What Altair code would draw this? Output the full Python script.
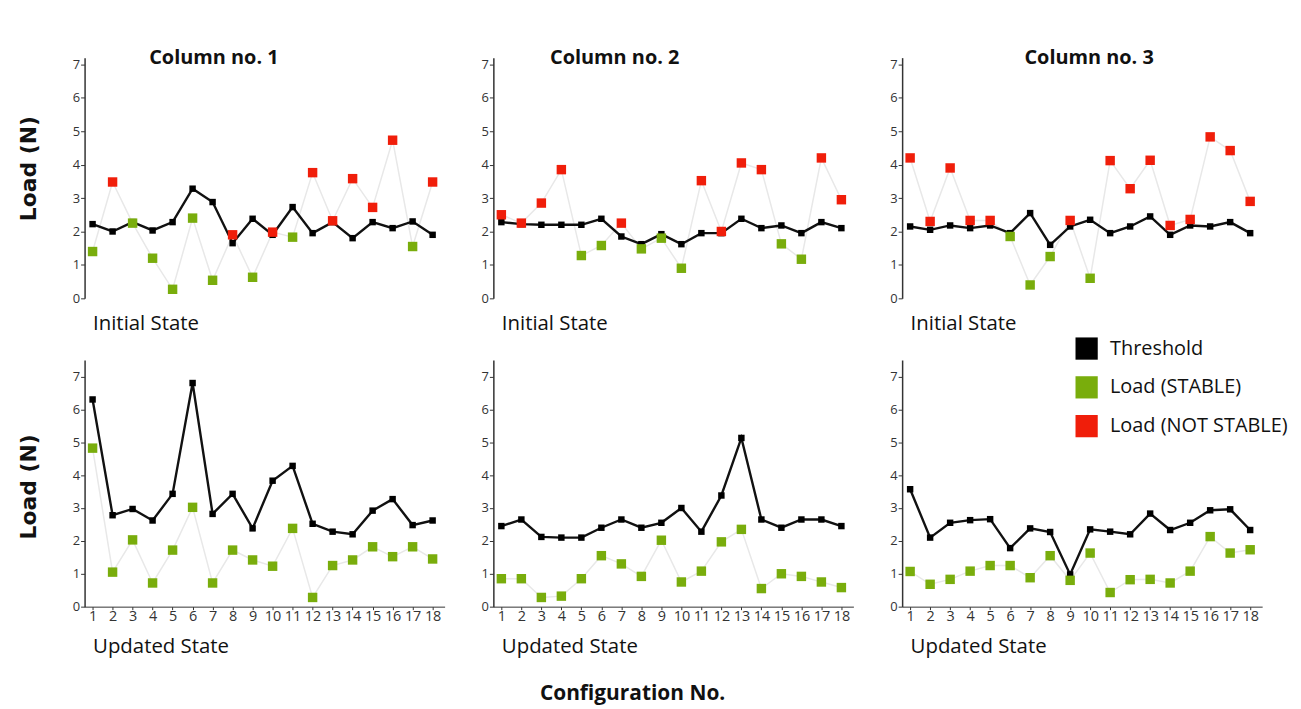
import altair as alt
import pandas as pd

configs = list(range(1, 19))
series_names = ["Threshold", "Load (STABLE)", "Load (NOT STABLE)"]
series_colors = ["#000000", "#79ad0c", "#f01e0a"]

col_titles = ["Column no. 1", "Column no. 2", "Column no. 3"]
state_titles = ["Initial State", "Updated State"]

c1_init_thr = [2.22, 2.00, 2.28, 2.03, 2.28, 3.28, 2.88, 1.65, 2.38, 1.90, 2.73, 1.95, 2.28, 1.80, 2.28, 2.10, 2.30, 1.90]
c1_init_load = [1.40, 3.48, 2.25, 1.20, 0.27, 2.40, 0.54, 1.90, 0.63, 1.98, 1.83, 3.76, 2.32, 3.58, 2.72, 4.73, 1.55, 3.48]

c2_init_thr = [2.28, 2.22, 2.20, 2.20, 2.20, 2.38, 1.85, 1.62, 1.92, 1.62, 1.95, 1.95, 2.38, 2.10, 2.18, 1.95, 2.28, 2.10]
c2_init_load = [2.50, 2.25, 2.85, 3.85, 1.28, 1.58, 2.25, 1.48, 1.80, 0.90, 3.52, 2.00, 4.05, 3.85, 1.63, 1.17, 4.20, 2.95]

c3_init_thr = [2.15, 2.05, 2.18, 2.10, 2.18, 1.95, 2.55, 1.60, 2.15, 2.35, 1.95, 2.15, 2.45, 1.90, 2.18, 2.15, 2.28, 1.95]
c3_init_load = [4.20, 2.30, 3.90, 2.33, 2.33, 1.85, 0.40, 1.25, 2.33, 0.60, 4.12, 3.28, 4.13, 2.18, 2.36, 4.83, 4.42, 2.90]

c1_upd_thr = [6.30, 2.78, 2.97, 2.62, 3.43, 6.80, 2.82, 3.43, 2.38, 3.83, 4.28, 2.52, 2.28, 2.20, 2.92, 3.27, 2.48, 2.62]
c1_upd_load = [4.82, 1.05, 2.03, 0.72, 1.72, 3.02, 0.72, 1.72, 1.42, 1.23, 2.38, 0.28, 1.25, 1.42, 1.82, 1.52, 1.82, 1.45]

c2_upd_thr = [2.45, 2.65, 2.12, 2.10, 2.10, 2.40, 2.65, 2.40, 2.55, 3.00, 2.28, 3.38, 5.13, 2.65, 2.40, 2.65, 2.65, 2.45]
c2_upd_load = [0.85, 0.85, 0.28, 0.32, 0.85, 1.55, 1.30, 0.92, 2.02, 0.75, 1.08, 1.97, 2.35, 0.55, 1.00, 0.92, 0.75, 0.58]

c3_upd_thr = [3.57, 2.10, 2.55, 2.63, 2.66, 1.78, 2.38, 2.27, 0.98, 2.35, 2.28, 2.20, 2.83, 2.33, 2.55, 2.93, 2.96, 2.33]
c3_upd_load = [1.07, 0.68, 0.83, 1.08, 1.25, 1.25, 0.88, 1.55, 0.80, 1.63, 0.43, 0.82, 0.83, 0.72, 1.08, 2.13, 1.63, 1.73]

FONT = "Open Sans"
W = 362
H_TOP, H_BOT = 242, 248


def make_df(thr, load):
    rows = []
    for c, t, l in zip(configs, thr, load):
        rows.append({"cfg": c, "value": t, "series": "Threshold", "kind": "thr"})
        rows.append({"cfg": c, "value": l,
                     "series": "Load (NOT STABLE)" if l > t else "Load (STABLE)",
                     "kind": "load"})
    return pd.DataFrame(rows)


color_enc = alt.Color(
    "series:N",
    scale=alt.Scale(domain=series_names, range=series_colors),
    legend=alt.Legend(
        title=None, orient="none", legendX=996, legendY=281,
        symbolType="square", symbolSize=500, symbolStrokeWidth=0,
        symbolOpacity=1, labelFont=FONT, labelFontSize=20, labelColor="#111",
        labelOffset=12, rowPadding=16, labelLimit=400,
    ),
)


def panel(thr, load, col, row):
    df = make_df(thr, load)
    top = row == 0
    ymax = 7.2 if top else 7.5
    height = H_TOP if top else H_BOT
    if top:
        xaxis = alt.Axis(domain=False, ticks=False, labels=False, grid=False,
                         title=state_titles[0], titleFont=FONT, titleFontSize=20.5,
                         titleFontWeight="normal", titleColor="#111",
                         titleAlign="left", titleBaseline="middle",
                         titleX=8, titleY=25)
    else:
        xaxis = alt.Axis(values=configs, format="d", grid=False,
                         labelFont=FONT, labelFontSize=14.5, labelColor="#333",
                         labelPadding=0, tickSize=3, tickColor="#333",
                         domainColor="#333", labelFlush=False,
                         title=state_titles[1], titleFont=FONT, titleFontSize=20.5,
                         titleFontWeight="normal", titleColor="#111",
                         titleAlign="left", titleBaseline="middle",
                         titleX=8, titleY=40)
    ytitle = "Load (N)" if col == 0 else ""
    yaxis = alt.Axis(values=list(range(8)), grid=False, labelFont=FONT,
                     labelFontSize=13, labelColor="#333", labelPadding=1,
                     tickSize=4, tickColor="#333", domainColor="#333",
                     domainWidth=1.5, labelFlush=False,
                     title=ytitle, titleFont="DejaVu Sans", titleFontSize=22,
                     titleFontWeight="bold", titleColor="#111",
                     titleAngle=270, titleAlign="center", titleBaseline="middle",
                     titleX=-56, titleY=(111 if top else 127))
    base = alt.Chart(df).encode(
        x=alt.X("cfg:Q", scale=alt.Scale(domain=[0.6, 18.6], nice=False, zero=False), axis=xaxis),
        y=alt.Y("value:Q", scale=alt.Scale(domain=[0, ymax], nice=False), axis=yaxis),
    )
    gray = base.transform_filter(alt.datum.kind == "load").mark_line(color="#e8e8e8", strokeWidth=1.5)
    tline = base.transform_filter(alt.datum.kind == "thr").mark_line(color="#111", strokeWidth=2.4)
    tpts = base.transform_filter(alt.datum.kind == "thr").mark_square(size=42, opacity=1).encode(color=color_enc)
    lpts = base.transform_filter(alt.datum.kind == "load").mark_square(size=90, opacity=1).encode(color=color_enc)
    layers = [gray, tline, tpts, lpts]
    if top:
        tx = [130, 122, 188][col]
        layers.append(
            alt.Chart(pd.DataFrame({"t": [col_titles[col]]})).mark_text(
                font=FONT, fontSize=20, fontWeight="bold", color="#111",
                align="center", baseline="alphabetic"
            ).encode(text="t:N", x=alt.value(tx), y=alt.value(6))
        )
    if (not top) and col == 1:
        layers.append(
            alt.Chart(pd.DataFrame({"t": ["Configuration No."]})).mark_text(
                font=FONT, fontSize=21, fontWeight="bold", color="#111",
                align="center", baseline="middle"
            ).encode(text="t:N", x=alt.value(140), y=alt.value(H_BOT + 88))
        )
    return alt.layer(*layers).properties(width=W, height=height)


panels = [
    panel(c1_init_thr, c1_init_load, 0, 0),
    panel(c2_init_thr, c2_init_load, 1, 0),
    panel(c3_init_thr, c3_init_load, 2, 0),
    panel(c1_upd_thr, c1_upd_load, 0, 1),
    panel(c2_upd_thr, c2_upd_load, 1, 1),
    panel(c3_upd_thr, c3_upd_load, 2, 1),
]

chart = alt.concat(*panels, columns=3, spacing={"row": 62, "column": 49}, bounds="flush").properties(
    padding={"left": 10, "top": 38, "right": 5, "bottom": 5},
    background="white",
).configure_view(strokeWidth=0, stroke="transparent")

chart.save("out.html", embed_options={"renderer": "svg", "actions": False})
